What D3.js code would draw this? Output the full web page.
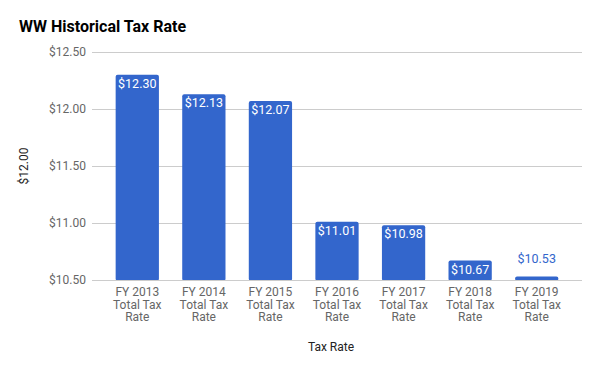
<!DOCTYPE html>
<html>
<head>
<meta charset="utf-8">
<script src="https://cdn.jsdelivr.net/npm/d3@7"></script>
<style>
  body { margin: 0; background: #fff; }
  text { font-family: Roboto, "Liberation Sans", Arial, sans-serif; }
</style>
</head>
<body>
<div id="chart"></div>
<script>
var categories = ["FY 2013", "FY 2014", "FY 2015", "FY 2016", "FY 2017", "FY 2018", "FY 2019"]
var values = [12.30, 12.13, 12.07, 11.01, 10.98, 10.67, 10.53]
var yTicks = [10.5, 11.0, 11.5, 12.0, 12.5]

var w = 600, h = 371
var plotLeft = 104, plotRight = 570, plotTop = 52, plotBottom = 280
var gridLeft = 92, gridRight = 582

var svg = d3.select("#chart").append("svg")
  .attr("width", w)
  .attr("height", h)

var x = d3.scaleBand().domain(categories).range([plotLeft, plotRight]).paddingInner(0.35).paddingOuter(0.175)
var y = d3.scaleLinear().domain([10.5, 12.5]).range([plotBottom, plotTop])
var fmt = function (d) { return "$" + d3.format(".2f")(d) }
var inside = function (d) { return plotBottom - y(d) > 12 }

// title
svg.append("text")
  .attr("x", 19).attr("y", 32)
  .attr("font-size", 16).attr("font-weight", "bold")
  .attr("fill", "#000")
  .text("WW Historical Tax Rate")

// gridlines + y labels
var yAxis = d3.axisLeft(y).tickValues(yTicks).tickFormat(fmt).tickSize(-(gridRight - gridLeft)).tickPadding(6)
var gy = svg.append("g").attr("transform", "translate(" + gridLeft + ",0)").call(yAxis)
gy.select(".domain").remove()
gy.selectAll(".tick line").attr("stroke", "#ccc")
gy.selectAll(".tick text").attr("fill", "#666").attr("font-size", 12)
  .attr("font-family", "Roboto, sans-serif")

// bars
svg.selectAll("rect.bar").data(values).enter()
  .append("rect").attr("class", "bar")
  .attr("x", function (d, i) { return x(categories[i]) })
  .attr("width", x.bandwidth())
  .attr("y", function (d) { return y(d) })
  .attr("height", function (d) { return plotBottom - y(d) + 1 })
  .attr("rx", 2)
  .attr("fill", "#3366cc")

// baseline
svg.append("line").attr("x1", gridLeft).attr("x2", gridRight)
  .attr("y1", plotBottom + 0.5).attr("y2", plotBottom + 0.5)
  .attr("stroke", "#ccc")

// value labels
svg.selectAll("text.val").data(values).enter()
  .append("text").attr("class", "val")
  .attr("x", function (d, i) { return x(categories[i]) + x.bandwidth() / 2 })
  .attr("y", function (d) { return inside(d) ? y(d) + 13 : y(d) - 14 })
  .attr("text-anchor", "middle")
  .attr("font-size", 12.5)
  .attr("fill", function (d) { return inside(d) ? "#fff" : "#3366cc" })
  .text(fmt)

// x labels
var xl = svg.selectAll("text.xl").data(categories).enter()
  .append("text").attr("class", "xl")
  .attr("text-anchor", "middle")
  .attr("font-size", 12)
  .attr("fill", "#666")
  .attr("transform", function (d) { return "translate(" + (x(d) + x.bandwidth() / 2) + ",296)" })
xl.append("tspan").attr("x", 0).attr("dy", 0).text(function (d) { return d })
xl.append("tspan").attr("x", 0).attr("dy", 12.5).text("Total Tax")
xl.append("tspan").attr("x", 0).attr("dy", 12.5).text("Rate")

// axis titles
svg.append("text")
  .attr("x", 331).attr("y", 351)
  .attr("text-anchor", "middle").attr("font-size", 12).attr("fill", "#222")
  .text("Tax Rate")

svg.append("text")
  .attr("transform", "translate(28,166) rotate(-90)")
  .attr("text-anchor", "middle").attr("font-size", 12).attr("fill", "#222")
  .text("$12.00")
</script>
</body>
</html>
